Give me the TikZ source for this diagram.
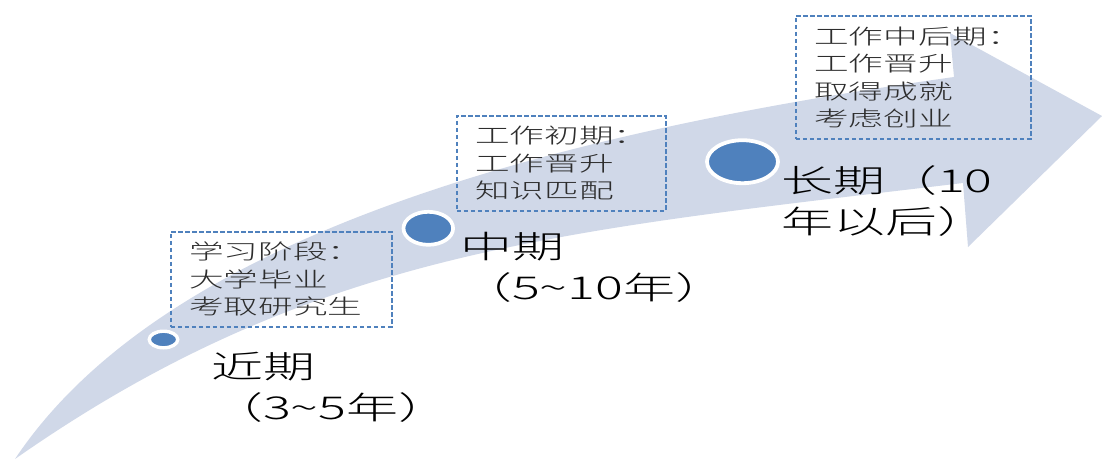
\documentclass[tikz,border=0pt]{standalone}
\usepackage{fontspec}
\usetikzlibrary{shapes.geometric}
\newfontfamily\cjkwide[FakeStretch=1.65, UprightFont={* Light}]{Noto Sans CJK SC}
\definecolor{bandc}{RGB}{208,216,232}
\definecolor{dotc}{RGB}{79,129,189}
\definecolor{boxtxt}{RGB}{45,45,45}
\begin{document}
\begin{tikzpicture}[x=1pt,y=-1pt,
  infobox/.style={draw=dotc, line width=1.5pt, dash pattern=on 4.5pt off 2.5pt,
    anchor=north west, inner xsep=18.5pt, inner ysep=0pt, align=left, text=boxtxt,
    font=\cjkwide\fontsize{21pt}{27.5pt}\selectfont},
  stagelabel/.style={anchor=west, inner sep=0pt, align=left, text=black,
    font=\cjkwide\fontsize{31.5pt}{41pt}\selectfont},
  dot/.style={ellipse, fill=dotc, draw=white, inner sep=0pt}]
\fill[white] (0,0) rectangle (1102,459);
\useasboundingbox (0,0) rectangle (1102,459);
% curved arrow band
\fill[bandc] (15,459) .. controls (165,234) and (554,133) .. (954,77)
  -- (950,33) -- (1102,116) -- (968,247) -- (963,183)
  .. controls (563,231) and (315,249) .. (15,459) -- cycle;
% dots
\node[dot, minimum width=28.5pt, minimum height=16.6pt, line width=3.4pt] (d1) at (163.5,339.5) {};
\node[dot, minimum width=49.6pt, minimum height=33pt, line width=3.7pt] (d2) at (428.3,228.3) {};
\node[dot, minimum width=71pt, minimum height=43pt, line width=3.8pt] (d3) at (742.5,161.7) {};
% info boxes
\node[infobox, minimum width=221pt, minimum height=95pt, text width=184pt] (b1) at (170,231)
  {学习阶段：\\大学毕业\\考取研究生};
\node[infobox, minimum width=209pt, minimum height=95pt, text width=172pt] (b2) at (456,115)
  {工作初期：\\工作晋升\\知识匹配};
\node[infobox, minimum width=235pt, minimum height=123pt, text width=198pt] (b3) at (795,15)
  {工作中后期：\\工作晋升\\取得成就\\考虑创业};
% stage labels
\node[stagelabel] (l1) at (211,387) {近期\\（3\textasciitilde5年）};
\node[stagelabel] (l2) at (460,267.5) {中期\\（5\textasciitilde10年）};
\node[stagelabel] (l3) at (781,201) {长期（10\\年以后）};
\end{tikzpicture}
\end{document}
